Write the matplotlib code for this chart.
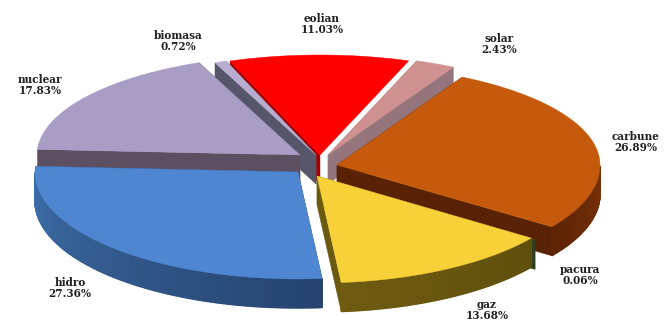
# Exploded 3D style pie of the electricity mix
import numpy as np
import matplotlib
matplotlib.use('Agg')
import matplotlib.pyplot as plt
from matplotlib.patches import Polygon

# Shares in percent, clockwise
sources = ['eolian', 'solar', 'carbune', 'pacura', 'gaz', 'hidro', 'nuclear', 'biomasa']
shares = [11.03, 2.43, 26.89, 0.06, 13.68, 27.36, 17.83, 0.72]

# Styles per slice
top_colors = ['#ff0000', '#cf9090', '#c55a0c', '#5a4a10', '#f8d038', '#4f86d2', '#a99dc6', '#b8adcf']
cut_colors = ['#a80000', '#94757c', '#5a2204', '#30401c', '#6a5a10', '#2f4a78', '#5c4f62', '#55566a']
wall_start = ['#b00000', '#94757c', '#5e2405', '#30401c', '#6f5c12', '#3c6ea8', '#5c4f62', '#55566a']
wall_end = ['#800000', '#94757c', '#7a3208', '#30401c', '#5f4f0c', '#26436e', '#5c4f62', '#55566a']
apexes = [(320, 155), (328, 155), (337, 165), (320, 178), (317, 176), (298, 172), (300, 155), (316, 155)]
draw_order = [0, 7, 1, 6, 2, 3, 5, 4]

start_angle = -20.0
radius_x = 263.0
radius_back = 100.0
radius_front = 107.0
depth = 29.0


def rim(apex, angles):
    t = np.radians(angles)
    c = np.cos(t)
    x = apex[0] + radius_x * np.sin(t)
    y = apex[1] - c * np.where(c > 0, radius_back, radius_front)
    return x, y


def blend(a, b, f):
    a = np.array(matplotlib.colors.to_rgb(a))
    b = np.array(matplotlib.colors.to_rgb(b))
    return tuple(a + (b - a) * f)


fig = plt.figure(figsize=(6.65, 3.24), dpi=100)
ax = fig.add_axes([0, 0, 1, 1])
ax.set_xlim(0, 665)
ax.set_ylim(324, 0)
ax.axis('off')

sweeps = np.array(shares) / sum(shares) * 360
edges = start_angle + np.concatenate([[0], np.cumsum(sweeps)])

for i in draw_order:
    apex = apexes[i]
    angles = np.linspace(edges[i], edges[i + 1], max(int(sweeps[i] * 2), 2))
    x, y = rim(apex, angles)

    # the cut faces running down from the centre (the red slice only shows its left one)
    for j in ([0] if i == 0 else [0, -1]):
        face = [apex, (x[j], y[j]), (x[j], y[j] + depth), (apex[0], apex[1] + depth)]
        ax.add_patch(Polygon(face, closed=True, fc=cut_colors[i], ec=cut_colors[i], lw=0.3))

    # outer wall, only where the rim faces the viewer
    front = np.where((angles > 90) & (angles < 270))[0]
    for k in front[:-1]:
        f = (k - front[0]) / max(len(front) - 1, 1)
        wall_color = blend(wall_end[i], wall_start[i], f)
        strip = [(x[k], y[k]), (x[k + 1], y[k + 1]),
                 (x[k + 1], y[k + 1] + depth), (x[k], y[k] + depth)]
        ax.add_patch(Polygon(strip, closed=True, fc=wall_color, ec=wall_color, lw=1.0))

    # top face
    top = np.column_stack([np.r_[apex[0], x], np.r_[apex[1], y]])
    ax.add_patch(Polygon(top, closed=True, fc=top_colors[i], ec=top_colors[i], lw=0.3))

# Labels
label_x = [322, 499, 636, 580, 487, 70, 40, 178]
label_y = [24, 44, 142, 275, 310, 288, 85, 41]
for name, share, lx, ly in zip(sources, shares, label_x, label_y):
    ax.text(lx, ly, '%s\n%.2f%%' % (name, share), ha='center', va='center',
            fontsize=7.6, fontweight='bold', family='DejaVu Serif',
            color='#222222', linespacing=1.0, clip_on=True)

fig.savefig('out.png', dpi=100)
